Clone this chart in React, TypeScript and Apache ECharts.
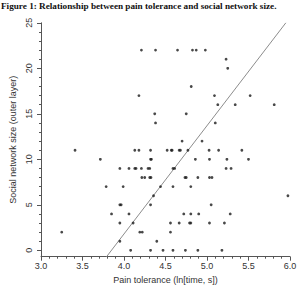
import React, { useEffect, useRef } from "react";
import * as echarts from "echarts";

// Pain tolerance (ln[time, s]) of each participant
const painTolerance: number[] = [
  4.21, 4.38, 4.645, 4.825, 4.87, 4.98,
  5.23,
  5.25,
  4.81,
  4.18, 5.09, 5.52,
  5.13, 5.34, 5.81,
  4.37, 4.75,
  4.38, 5.1,
  4.7, 4.94,
  3.41, 4.13, 4.18, 4.32, 4.52, 4.57, 4.58, 4.665, 4.68, 4.77, 5.025, 5.14, 5.42,
  3.715, 4.32, 4.33, 4.86, 5.03, 5.24, 5.5,
  3.95, 4.06, 4.13, 4.145, 4.21, 4.29, 4.31, 4.59, 4.61, 5.23, 5.29,
  4.215, 4.25, 4.31, 4.325, 4.735, 4.75, 4.89, 5.03, 5.06,
  3.785, 3.99, 4.44, 4.59, 4.805,
  4.356, 5.975,
  3.95, 3.966, 4.32, 5.05,
  3.85, 4.06, 4.72, 4.805, 4.9, 5.28,
  3.95, 4.11, 4.56, 4.665, 4.79, 4.805, 5.03, 5.21,
  3.25, 4.19, 4.22, 4.56,
  3.95, 4.395,
  4.08, 4.32, 4.47, 4.59, 4.74, 4.89, 5.18,
];

// Social network size (outer layer), same order as painTolerance
const networkSize: number[] = [
  22, 22, 22, 22, 22, 22,
  21,
  20,
  18,
  17, 17, 17,
  16, 16, 16,
  15, 15,
  14, 14,
  12, 12,
  11, 11, 11, 11, 11, 11, 11, 11, 11, 11, 11, 11, 11,
  10, 10, 10, 10, 10, 10, 10,
  9, 9, 9, 9, 9, 9, 9, 9, 9, 9, 9,
  8, 8, 8, 8, 8, 8, 8, 8, 8,
  7, 7, 7, 7, 7,
  6, 6,
  5, 5, 5, 5,
  4, 4, 4, 4, 4, 4,
  3, 3, 3, 3, 3, 3, 3, 3,
  2, 2, 2, 2,
  1, 1,
  0, 0, 0, 0, 0, 0, 0,
];

// Fitted regression line (end points)
const fitLineX: number[] = [3.79, 5.95];
const fitLineY: number[] = [-0.7, 25];

// Axis ticks
const yMajorTicks: number[] = [0, 5, 10, 15, 20, 25];
const yMinorTicks: number[] = [
  0, 1, 2, 3, 4, 5, 6, 7, 8, 9, 10, 11, 12, 13, 14, 15, 16, 17, 18, 19, 20, 21, 22, 23, 24, 25,
];

const TITLE = "Figure 1: Relationship between pain tolerance and social network size.";
const X_NAME = "Pain tolerance (ln[time, s])";
const Y_NAME = "Social network size (outer layer)";

const SANS = "'Liberation Sans', Arial, Helvetica, sans-serif";
const SERIF = "'Liberation Serif', 'Times New Roman', serif";
const AXIS_COLOR = "#555";
const TEXT_COLOR = "#333";

export default function App() {
  const ref = useRef<HTMLDivElement>(null);

  useEffect(() => {
    if (!ref.current) return;
    const chart = echarts.init(ref.current, null, { renderer: "svg" });
    const points = painTolerance.map((x, i) => [x, networkSize[i]]);
    const fit = fitLineX.map((x, i) => [x, fitLineY[i]]);

    chart.setOption({
      animation: false,
      backgroundColor: "#ffffff",
      title: {
        text: TITLE,
        left: 1,
        top: 1.5,
        padding: 0,
        textStyle: {
          fontFamily: SERIF,
          fontWeight: "bold",
          fontSize: 9.2,
          color: "#111",
        },
      },
      grid: { left: 34.3, right: 10, top: 22.8, bottom: 33.3, containLabel: false },
      xAxis: {
        type: "value",
        min: 3,
        max: 6,
        interval: 0.5,
        name: X_NAME,
        nameLocation: "middle",
        nameGap: 14,
        nameTextStyle: { fontFamily: SANS, fontSize: 9, color: TEXT_COLOR },
        axisLine: { show: true, onZero: false, lineStyle: { color: AXIS_COLOR, width: 1 } },
        axisTick: { show: true, inside: false, length: 4, lineStyle: { color: AXIS_COLOR } },
        minorTick: { show: true, splitNumber: 5, length: 2, lineStyle: { color: AXIS_COLOR } },
        axisLabel: {
          fontFamily: SANS,
          fontSize: 9,
          color: TEXT_COLOR,
          margin: 5,
          formatter: (v: number) => v.toFixed(1),
        },
        splitLine: { show: false },
      },
      yAxis: [
        {
          type: "value",
          min: -0.7,
          max: 25,
          position: "left",
          name: Y_NAME,
          nameLocation: "middle",
          nameGap: 24,
          nameTextStyle: { fontFamily: SANS, fontSize: 9, color: TEXT_COLOR },
          axisLine: { show: true, onZero: false, lineStyle: { color: AXIS_COLOR, width: 1 } },
          axisTick: {
            show: true,
            inside: false,
            length: 2,
            customValues: yMinorTicks,
            lineStyle: { color: AXIS_COLOR },
          },
          axisLabel: { show: false },
          splitLine: { show: false },
        },
        {
          type: "value",
          min: -0.7,
          max: 25,
          position: "left",
          axisLine: { show: false, onZero: false },
          axisTick: {
            show: true,
            inside: false,
            length: 4,
            customValues: yMajorTicks,
            lineStyle: { color: AXIS_COLOR },
          },
          axisLabel: {
            show: true,
            customValues: yMajorTicks,
            rotate: 90,
            margin: 8,
            fontFamily: SANS,
            fontSize: 9,
            color: TEXT_COLOR,
          },
          splitLine: { show: false },
        },
      ],
      series: [
        {
          type: "line",
          data: fit,
          xAxisIndex: 0,
          yAxisIndex: 0,
          showSymbol: false,
          symbol: "none",
          silent: true,
          lineStyle: { color: "#8c8c8c", width: 1 },
          z: 1,
        },
        {
          type: "scatter",
          data: points,
          xAxisIndex: 0,
          yAxisIndex: 0,
          symbol: "circle",
          symbolSize: 2.8,
          itemStyle: { color: "#1a1a1a" },
          z: 2,
        },
      ],
    });

    return () => chart.dispose();
  }, []);

  return (
    <div
      ref={ref}
      style={{ position: "fixed", left: 0, top: 0, width: 300, height: 290, background: "#fff" }}
    />
  );
}
